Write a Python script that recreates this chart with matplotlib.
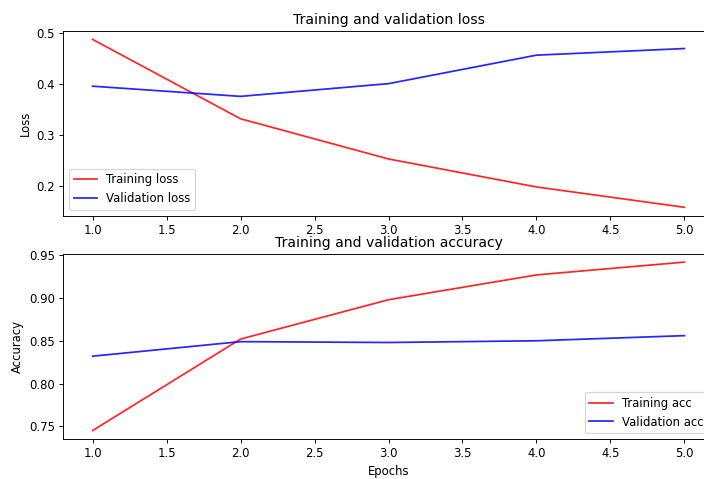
import numpy as np
import matplotlib
matplotlib.use('Agg')
import matplotlib.pyplot as plt

# values
epochs = [1, 2, 3, 4, 5]
loss = [0.488, 0.332, 0.253, 0.198, 0.158]
val_loss = [0.396, 0.376, 0.401, 0.457, 0.470]
acc = [0.745, 0.852, 0.898, 0.927, 0.942]
val_acc = [0.832, 0.849, 0.848, 0.850, 0.856]

dpi = 84
fig = plt.figure(figsize=(704 / dpi, 479 / dpi), dpi=dpi)

# top: loss
ax1 = fig.add_axes([0.0895, 0.5497, 1.0142 - 0.0895, 0.9353 - 0.5497])
ax1.plot(epochs, loss, 'r', alpha=0.85, label='Training loss')
ax1.plot(epochs, val_loss, 'b', alpha=0.85, label='Validation loss')
ax1.set_title('Training and validation loss')
ax1.set_ylabel('Loss')
ax1.set_yticks([0.2, 0.3, 0.4, 0.5])
ax1.legend(loc='lower left')

# bottom: accuracy
ax2 = fig.add_axes([0.0895, 0.0835, 1.0142 - 0.0895, 0.4704 - 0.0835])
ax2.plot(epochs, acc, 'r', alpha=0.85, label='Training acc')
ax2.plot(epochs, val_acc, 'b', alpha=0.85, label='Validation acc')
ax2.set_title('Training and validation accuracy')
ax2.set_xlabel('Epochs')
ax2.set_ylabel('Accuracy')
ax2.set_yticks([0.75, 0.80, 0.85, 0.90, 0.95])
ax2.legend(loc='lower right')

fig.savefig('out.png', dpi=dpi)
